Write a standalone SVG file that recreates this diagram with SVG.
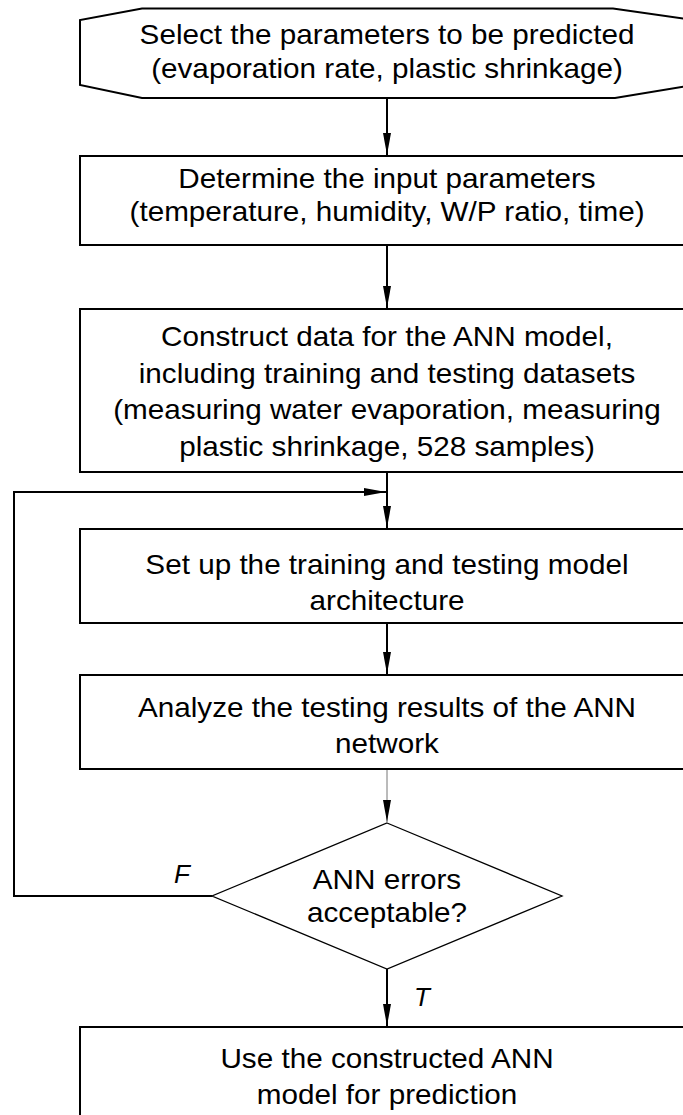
<svg xmlns="http://www.w3.org/2000/svg" width="683" height="1115" viewBox="0 0 683 1115">
<style>
.box{fill:#fff;stroke:#000;stroke-width:2}
.dia{fill:#fff;stroke:#000;stroke-width:1.3}
.t{font-family:"Liberation Sans",Arial,sans-serif;font-size:28px;fill:#000;text-anchor:middle}
.lab{font-family:"Liberation Sans",Arial,sans-serif;font-size:26px;font-style:italic;fill:#000;text-anchor:middle}
.c{fill:none;stroke:#000;stroke-width:2}
.thin{fill:none;stroke:#777;stroke-width:1}
</style>
<defs>
<marker id="ah" markerUnits="userSpaceOnUse" markerWidth="24" markerHeight="10" refX="22" refY="4" orient="auto">
<path d="M0,0 L22,4 L0,8 z" fill="#000"/>
</marker>
</defs>
<g id="connectors">
<line class="c" x1="387" y1="98" x2="387" y2="155" marker-end="url(#ah)"/>
<line class="c" x1="387" y1="245" x2="387" y2="308" marker-end="url(#ah)"/>
<line class="c" x1="387" y1="472" x2="387" y2="528" marker-end="url(#ah)"/>
<line class="c" x1="387" y1="623" x2="387" y2="674" marker-end="url(#ah)"/>
<line class="thin" x1="387" y1="769" x2="387" y2="822" marker-end="url(#ah)"/>
<line class="c" x1="387" y1="969" x2="387" y2="1026" marker-end="url(#ah)"/>
<polyline class="c" points="212,896 14,896 14,492 386,492" marker-end="url(#ah)"/>
<text class="lab" x="182" y="883">F</text>
<text class="lab" x="422" y="1006">T</text>
</g>
<g id="n1">
<polygon class="box" points="142,8.5 613,8.5 694,20 694,85 615,98 142,98 80,85 80,20"/>
<text class="t" transform="translate(387,44) scale(1.06,1)">Select the parameters to be predicted</text>
<text class="t" transform="translate(387,78) scale(1.06,1)">(evaporation rate, plastic shrinkage)</text>
</g>
<g id="n2">
<rect class="box" x="80" y="156" width="614" height="89"/>
<text class="t" transform="translate(387,188) scale(1.06,1)">Determine the input parameters</text>
<text class="t" transform="translate(387,221) scale(1.06,1)">(temperature, humidity, W/P ratio, time)</text>
</g>
<g id="n3">
<rect class="box" x="80" y="309" width="614" height="163"/>
<text class="t" transform="translate(387,346) scale(1.06,1)">Construct data for the ANN model,</text>
<text class="t" transform="translate(387,383) scale(1.06,1)">including training and testing datasets</text>
<text class="t" transform="translate(387,419) scale(1.06,1)">(measuring water evaporation, measuring</text>
<text class="t" transform="translate(387,456) scale(1.06,1)">plastic shrinkage, 528 samples)</text>
</g>
<g id="n4">
<rect class="box" x="80" y="529" width="614" height="94"/>
<text class="t" transform="translate(387,574) scale(1.06,1)">Set up the training and testing model</text>
<text class="t" transform="translate(387,610) scale(1.06,1)">architecture</text>
</g>
<g id="n5">
<rect class="box" x="80" y="675" width="614" height="94"/>
<text class="t" transform="translate(387,717) scale(1.06,1)">Analyze the testing results of the ANN</text>
<text class="t" transform="translate(387,753) scale(1.06,1)">network</text>
</g>
<g id="n6">
<polygon class="dia" points="387,823 562,896 387,969 212,896"/>
<text class="t" transform="translate(387,889) scale(1.06,1)">ANN errors</text>
<text class="t" transform="translate(387,922) scale(1.06,1)">acceptable?</text>
</g>
<g id="n7">
<rect class="box" x="80" y="1027" width="614" height="120"/>
<text class="t" transform="translate(387,1068) scale(1.06,1)">Use the constructed ANN</text>
<text class="t" transform="translate(387,1104) scale(1.06,1)">model for prediction</text>
</g>
</svg>
